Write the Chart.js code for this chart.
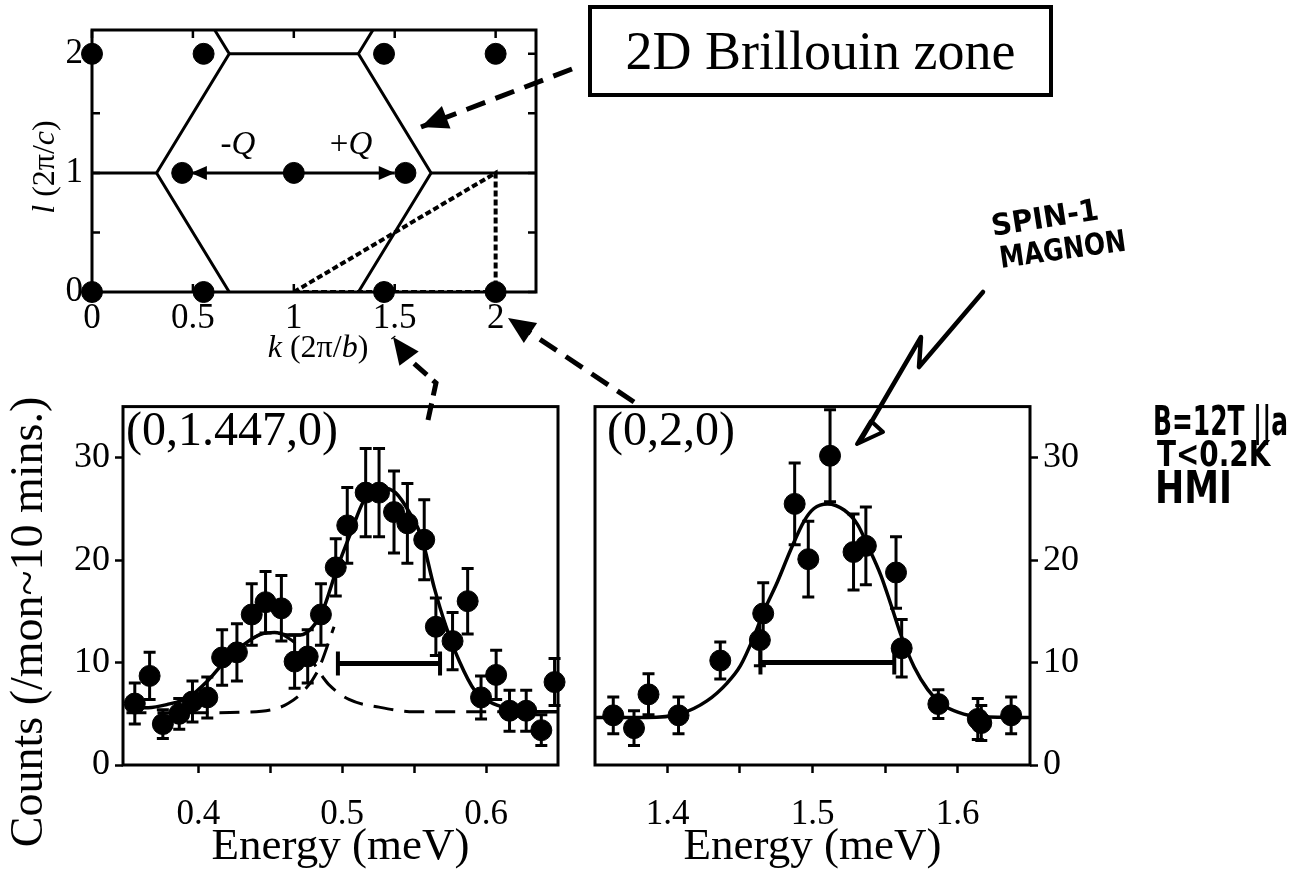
<!DOCTYPE html>
<html lang="en">
<head>
<meta charset="UTF-8">
<title>Spin-1 magnon scans</title>
<script src="https://cdn.jsdelivr.net/npm/chart.js"></script>
<style>
    body { margin: 0; background: #fff; }
    #page { position: relative; width: 1295px; height: 870px; overflow: hidden; background: #fff; }
    #page canvas { position: absolute; }
    .txt { position: absolute; white-space: nowrap; line-height: 0; color: #000;
           font-family: 'Liberation Serif', 'Times New Roman', serif; }
    .zone { position: absolute; left: 588px; top: 5px; width: 457px; height: 84px;
            border: 4px solid #000; display: flex; align-items: center; justify-content: center;
            font: 54px 'Liberation Serif', 'Times New Roman', serif; color: #000; }
</style>
</head>
<body>
<div id="page">
    <canvas id="zoneChart" width="560" height="370" style="left:0;top:0"></canvas>
    <canvas id="leftChart" width="580" height="490" style="left:0;top:380px"></canvas>
    <canvas id="rightChart" width="520" height="490" style="left:580px;top:380px"></canvas>
    <canvas id="marks" width="1295" height="870" style="left:0;top:0"></canvas>
    <div class="zone">2D Brillouin zone</div>
</div>
<script>
// ---- reciprocal space sketch (k, l) ----
var kTicks = [0, 0.5, 1, 1.5, 2];
var lTicks = [0, 0.5, 1, 1.5, 2];
var lLabels = [0, 1, 2];
var braggK = [0, 0.553, 1.447, 2, 0.447, 1, 1.553, 0, 0.553, 1.447, 2];
var braggL = [2, 2, 2, 2, 1, 1, 1, 0, 0, 0, 0];
var zoneLeftK = [0.608, 0.68, 0.32, 0.68];
var zoneRightK = [1.392, 1.32, 1.68, 1.32];
var zoneSideL = [2.2, 2, 1, 0];
var zoneTopK = [0.68, 1.32];
var zoneTopL = [2, 2];
var edgeLeftK = [0, 0.32];
var edgeRightK = [1.68, 2.2];
var edgeL = [1, 1];
var scanK = [1, 2, 2, 1];
var scanL = [0, 1, 0, 0];
var qFromK = 1;
var qTipK = [0.49, 1.5];
var qL = 1;

// ---- scan at (0,1.447,0) ----
var energyA = [0.3558, 0.3661, 0.3753, 0.3867, 0.3959, 0.4062, 0.4165, 0.4268, 0.4371, 0.4467,
               0.4577, 0.4669, 0.4760, 0.4852, 0.4955, 0.5035, 0.5163, 0.5256, 0.5360, 0.5453,
               0.5570, 0.5651, 0.5767, 0.5872, 0.5965, 0.6070, 0.6163, 0.6279, 0.6384, 0.6476];
var countsA = [6.0, 8.7, 4.0, 5.0, 6.2, 6.6, 10.5, 11.0, 14.7, 15.9,
               15.3, 10.1, 10.6, 14.7, 19.3, 23.4, 26.6, 26.6, 24.7, 23.6,
               22.0, 13.5, 12.1, 16.0, 6.6, 8.8, 5.3, 5.3, 3.4, 8.1];
var errA = [2.0, 2.3, 1.4, 1.5, 2.0, 2.0, 2.7, 2.8, 3.0, 3.0,
            3.2, 2.6, 2.6, 3.0, 2.8, 3.7, 4.3, 4.3, 4.0, 3.9,
            3.9, 2.8, 2.8, 3.2, 2.1, 2.4, 2.0, 2.0, 1.5, 2.3];
var fitAx = [0.350, 0.365, 0.378, 0.393, 0.407, 0.419, 0.432, 0.444, 0.453, 0.462, 0.471, 0.479,
             0.486, 0.4964, 0.506, 0.515, 0.527, 0.537, 0.547, 0.555, 0.564, 0.572, 0.5815,
             0.592, 0.605, 0.621, 0.635, 0.650];
var fitAy = [5.6, 5.6, 5.9, 6.6, 8.3, 10.2, 11.8, 12.8, 12.95, 12.7, 12.7, 13.4,
             14.9, 19.2, 22.7, 25.8, 27.1, 26.6, 24.6, 22.3, 17.3, 13.6, 10.1,
             7.3, 6.0, 5.4, 5.2, 5.2];
var lowPeakX = [0.419, 0.432, 0.444, 0.453, 0.4646, 0.4783, 0.4875, 0.4907, 0.5047, 0.5256, 0.55, 0.65];
var lowPeakY = [10.2, 11.8, 12.8, 12.95, 12.2, 10.3, 8.4, 7.85, 6.4, 5.65, 5.2, 5.2];
var highPeakX = [0.35, 0.40, 0.43, 0.451, 0.4623, 0.4737, 0.483, 0.4943];
var highPeakY = [5.1, 5.1, 5.15, 5.4, 6.0, 7.3, 9.2, 13.5];
var resolutionA = [0.497, 0.568, 9.9];
var xTicksA = [0.4, 0.45, 0.5, 0.55, 0.6];
var xLabelsA = [0.4, 0.5, 0.6];

// ---- scan at (0,2,0) ----
var energyB = [1.3626, 1.3769, 1.3869, 1.4076, 1.4364, 1.4637, 1.4660, 1.4877, 1.4971, 1.5121,
               1.5283, 1.5368, 1.5576, 1.5615, 1.5868, 1.6140, 1.6164, 1.6370];
var countsB = [4.85, 3.6, 6.9, 4.85, 10.2, 12.2, 14.8, 25.5, 20.1, 30.2,
               20.8, 21.4, 18.8, 11.4, 5.95, 4.5, 4.1, 4.85];
var errB = [1.8, 1.7, 2.0, 1.8, 1.8, 2.5, 3.0, 4.0, 3.7, 4.5,
            3.7, 3.8, 3.5, 2.8, 1.4, 2.0, 1.7, 1.8];
var fitBx = [1.35, 1.3857, 1.4088, 1.4272, 1.4411, 1.4503, 1.4595, 1.4664, 1.4757, 1.4849, 1.4941,
             1.501, 1.5103, 1.5218, 1.531, 1.538, 1.5472, 1.554, 1.5615, 1.5702, 1.5795, 1.5887,
             1.6002, 1.6164, 1.65];
var fitBy = [4.63, 4.63, 5.0, 6.26, 8.0, 9.7, 12.5, 15.0, 17.85, 21.0, 23.8,
             25.05, 25.5, 24.9, 23.5, 21.45, 18.5, 15.7, 12.5, 9.55, 7.36, 6.0,
             5.17, 4.7, 4.63];
var resolutionB = [1.4641, 1.5564, 10.0];
var xTicksB = [1.4, 1.45, 1.5, 1.55, 1.6];
var xLabelsB = [1.4, 1.5, 1.6];
var yTicks = [0, 10, 20, 30];

Chart.defaults.font.family = "'Liberation Serif', 'Times New Roman', serif";
Chart.defaults.color = '#000';

function pts(xs, ys) {
    return xs.map(function(x, i) { return {x: x, y: ys[i]}; });
}
function path(xs, ys, extra) {
    return Object.assign({data: pts(xs, ys), showLine: true, pointRadius: 0, borderColor: '#000',
                          borderWidth: 3, tension: 0}, extra || {});
}
function round2(v) { return Math.round(v * 100) / 100; }

function drawHead(ctx, tx, ty, fx, fy, len, half) {
    var a = Math.atan2(ty - fy, tx - fx);
    ctx.beginPath();
    ctx.moveTo(tx, ty);
    ctx.lineTo(tx - len * Math.cos(a) + half * Math.sin(a), ty - len * Math.sin(a) - half * Math.cos(a));
    ctx.lineTo(tx - len * Math.cos(a) - half * Math.sin(a), ty - len * Math.sin(a) + half * Math.cos(a));
    ctx.closePath();
    ctx.fill();
}

// box round the plot area, optionally with inward ticks
var framePlugin = {
    id: 'frame',
    beforeDatasetsDraw: function(chart, args, opts) {
        var a = chart.chartArea, ctx = chart.ctx;
        ctx.save();
        ctx.strokeStyle = '#000';
        ctx.lineWidth = 3;
        ctx.strokeRect(a.left, a.top, a.right - a.left, a.bottom - a.top);
        if (opts.inward) {
            ctx.lineWidth = 2.5;
            ctx.beginPath();
            chart.scales.x.ticks.forEach(function(t) {
                var px = chart.scales.x.getPixelForValue(t.value);
                ctx.moveTo(px, a.bottom); ctx.lineTo(px, a.bottom - 8);
                ctx.moveTo(px, a.top); ctx.lineTo(px, a.top + 8);
            });
            chart.scales.y.ticks.forEach(function(t) {
                var py = chart.scales.y.getPixelForValue(t.value);
                ctx.moveTo(a.left, py); ctx.lineTo(a.left + 8, py);
                ctx.moveTo(a.right, py); ctx.lineTo(a.right - 8, py);
            });
            ctx.stroke();
        }
        ctx.restore();
    }
};

// vertical error bars and the horizontal resolution bar
var errorBarPlugin = {
    id: 'errorBars',
    beforeDatasetsDraw: function(chart, args, opts) {
        var ctx = chart.ctx, xs = chart.scales.x, ys = chart.scales.y;
        ctx.save();
        ctx.strokeStyle = '#000';
        ctx.lineWidth = 3;
        chart.data.datasets.forEach(function(ds) {
            if (!ds.errors) return;
            ds.data.forEach(function(p, j) {
                var px = xs.getPixelForValue(p.x);
                var top = ys.getPixelForValue(p.y + ds.errors[j]);
                var bot = ys.getPixelForValue(p.y - ds.errors[j]);
                ctx.beginPath();
                ctx.moveTo(px, top); ctx.lineTo(px, bot);
                ctx.moveTo(px - 6, top); ctx.lineTo(px + 6, top);
                ctx.moveTo(px - 6, bot); ctx.lineTo(px + 6, bot);
                ctx.stroke();
            });
        });
        if (opts.bar) {
            var x0 = xs.getPixelForValue(opts.bar[0]), x1 = xs.getPixelForValue(opts.bar[1]);
            var y = ys.getPixelForValue(opts.bar[2]);
            ctx.lineWidth = 5;
            ctx.beginPath();
            ctx.moveTo(x0, y); ctx.lineTo(x1, y);
            ctx.stroke();
            ctx.lineWidth = 4;
            ctx.beginPath();
            ctx.moveTo(x0, y - 12); ctx.lineTo(x0, y + 12);
            ctx.moveTo(x1, y - 12); ctx.lineTo(x1, y + 12);
            ctx.stroke();
        }
        ctx.restore();
    }
};

// arrow heads at the last point of flagged line datasets
var arrowPlugin = {
    id: 'arrowTips',
    afterDatasetsDraw: function(chart) {
        var ctx = chart.ctx;
        ctx.save();
        ctx.fillStyle = '#000';
        chart.data.datasets.forEach(function(ds, i) {
            if (!ds.arrowHead) return;
            var el = chart.getDatasetMeta(i).data;
            var a = el[el.length - 2], b = el[el.length - 1];
            drawHead(ctx, b.x, b.y, a.x, a.y, 16, 7);
        });
        ctx.restore();
    }
};

function fixedTicks(values) {
    return function(scale) { scale.ticks = values.map(function(v) { return {value: v}; }); };
}

var base = {
    responsive: false,
    animation: false,
    events: [],
    plugins: {legend: {display: false}, tooltip: {enabled: false}}
};

// top panel
new Chart(document.getElementById('zoneChart'), {
    type: 'scatter',
    data: {datasets: [
        {data: pts(braggK, braggL), pointRadius: 10.5, backgroundColor: '#000', borderColor: '#000', clip: false},
        path([qFromK, qTipK[0]], [qL, qL], {arrowHead: true}),
        path([qFromK, qTipK[1]], [qL, qL], {arrowHead: true}),
        path(scanK, scanL, {borderDash: [6, 3], borderWidth: 4}),
        path(zoneLeftK, zoneSideL),
        path(zoneRightK, zoneSideL),
        path(zoneTopK, zoneTopL),
        path(edgeLeftK, edgeL),
        path(edgeRightK, edgeL)
    ]},
    options: Object.assign({}, base, {
        layout: {padding: {top: 25, right: 24, left: 0, bottom: 0}},
        plugins: Object.assign({}, base.plugins, {frame: {inward: true}}),
        scales: {
            x: {min: 0, max: 2.2, afterBuildTicks: fixedTicks(kTicks), afterFit: function(s) { s.height = 78; },
                grid: {display: false, drawTicks: false}, border: {display: false},
                ticks: {padding: 6, font: {size: 35}, maxRotation: 0, autoSkip: false,
                        callback: function(v) { return String(v); }}},
            y: {min: 0, max: 2.2, afterBuildTicks: fixedTicks(lTicks), afterFit: function(s) { s.width = 92; },
                grid: {display: false, drawTicks: false}, border: {display: false},
                ticks: {padding: 9, font: {size: 35}, autoSkip: false,
                        callback: function(v) { return lLabels.indexOf(v) >= 0 ? String(v) : ''; }}}
        }
    }),
    plugins: [framePlugin, arrowPlugin]
});

function scanOptions(xMin, xMax, xTicks, xLabels, yPos, yWidth, pad, bar) {
    return Object.assign({}, base, {
        layout: {padding: pad},
        plugins: Object.assign({}, base.plugins, {frame: {}, errorBars: {bar: bar}}),
        scales: {
            x: {min: xMin, max: xMax, afterBuildTicks: fixedTicks(xTicks), afterFit: function(s) { s.height = 105; },
                grid: {display: true, drawOnChartArea: false, drawTicks: true, tickLength: 8, tickWidth: 2.5, tickColor: '#000'},
                border: {display: false},
                ticks: {padding: 21, font: {size: 35}, maxRotation: 0, autoSkip: false,
                        callback: function(v) { return xLabels.indexOf(round2(v)) >= 0 ? String(round2(v)) : ''; }},
                title: {display: true, text: 'Energy (meV)', font: {size: 45, lineHeight: 1}, padding: 0}},
            y: {position: yPos, min: 0, max: 35, afterBuildTicks: fixedTicks(yTicks), afterFit: function(s) { s.width = yWidth; },
                grid: {display: true, drawOnChartArea: false, drawTicks: true, tickLength: 8, tickWidth: 2.5, tickColor: '#000'},
                border: {display: false},
                ticks: {padding: 5, font: {size: 36}, autoSkip: false}}
        }
    });
}

new Chart(document.getElementById('leftChart'), {
    type: 'scatter',
    data: {datasets: [
        {data: pts(energyA, countsA), errors: errA, pointRadius: 10.5, backgroundColor: '#000', borderColor: '#000', clip: false},
        path(fitAx, fitAy, {borderWidth: 3.5, cubicInterpolationMode: 'monotone'}),
        path(lowPeakX, lowPeakY, {borderWidth: 3, borderDash: [20, 11], cubicInterpolationMode: 'monotone'}),
        path(highPeakX, highPeakY, {borderWidth: 3, borderDash: [20, 11], cubicInterpolationMode: 'monotone'})
    ]},
    options: scanOptions(0.3476, 0.65, xTicksA, xLabelsA, 'left', 123, {top: 13, right: 22, left: 0, bottom: 0}, resolutionA),
    plugins: [framePlugin, errorBarPlugin]
});

new Chart(document.getElementById('rightChart'), {
    type: 'scatter',
    data: {datasets: [
        {data: pts(energyB, countsB), errors: errB, pointRadius: 10.5, backgroundColor: '#000', borderColor: '#000', clip: false},
        path(fitBx, fitBy, {borderWidth: 3.5, cubicInterpolationMode: 'monotone'})
    ]},
    options: scanOptions(1.35, 1.65, xTicksB, xLabelsB, 'right', 70, {top: 13, right: 0, left: 15, bottom: 0}, resolutionB),
    plugins: [framePlugin, errorBarPlugin]
});

// ---- text labels placed by their baseline ----
var page = document.getElementById('page');
function note(html, x, y, size, o) {
    o = o || {};
    var box = document.createElement('div');
    box.style.cssText = 'position:absolute;width:0;height:0;left:' + x + 'px;top:' + y + 'px;transform:rotate(' + (o.rot || 0) + 'deg)';
    var t = document.createElement('div');
    t.className = 'txt';
    t.innerHTML = html;
    t.style.fontSize = size + 'px';
    t.style.left = '0px';
    t.style.top = (-0.34 * size) + 'px';
    if (o.font) t.style.fontFamily = o.font;
    if (o.weight) t.style.fontWeight = o.weight;
    box.appendChild(t);
    page.appendChild(box);
    var s = o.width ? o.width / t.offsetWidth : 1;
    if (o.center) {
        t.style.transformOrigin = '50% 50%';
        t.style.transform = 'translateX(-50%) scaleX(' + s + ')';
    } else {
        t.style.transformOrigin = '0 50%';
        t.style.transform = 'scaleX(' + s + ')';
    }
}

note('(0,1.447,0)', 126, 445, 48);
note('(0,2,0)', 607, 445, 48);
note('-<i>Q</i>', 238, 154, 33, {center: true});
note('+<i>Q</i>', 351, 154, 33, {center: true});
note('<i>k</i> (2&pi;/<i>b</i>)', 318, 357, 32, {center: true});
note('<i>l</i> (2&pi;/<i>c</i>)', 54, 167, 32, {center: true, rot: -90});
note('Counts (/mon~10 mins.)', 43, 622, 46, {center: true, rot: -90});

var hand = "'DejaVu Sans', sans-serif";
note('SPIN-1', 993, 236, 30, {font: hand, weight: 'bold', width: 108, rot: -9});
note('MAGNON', 1001, 268, 30, {font: hand, weight: 'bold', width: 127, rot: -8});
note('B=12T ||a', 1153, 435, 40, {font: hand, weight: 'bold', width: 135});
note('T&lt;0.2K', 1157, 466, 36, {font: hand, weight: 'bold', width: 113});
note('HMI', 1155, 503, 44, {font: hand, weight: 'bold', width: 77});

// ---- pointer arrows between the panels ----
var m = document.getElementById('marks').getContext('2d');
m.fillStyle = '#000';
m.strokeStyle = '#000';
function dashedArrow(p, dash) {
    m.save();
    m.setLineDash(dash);
    m.lineWidth = 5;
    m.beginPath();
    m.moveTo(p[0][0], p[0][1]);
    for (var i = 1; i < p.length; i++) m.lineTo(p[i][0], p[i][1]);
    m.stroke();
    m.restore();
    var n = p.length;
    drawHead(m, p[n - 1][0], p[n - 1][1], p[n - 2][0], p[n - 2][1], 27, 12);
}
dashedArrow([[572, 69], [421, 127]], [20, 11]);
dashedArrow([[634, 402], [508, 318]], [20, 11]);
dashedArrow([[428, 420], [436, 383], [410, 360], [393, 337]], [17, 8]);

// hand-drawn zigzag pointing at the (0,2,0) peak
m.save();
m.lineWidth = 4.5;
m.lineJoin = 'round';
m.lineCap = 'round';
m.beginPath();
m.moveTo(983, 292);
m.lineTo(919, 367);
m.lineTo(921, 337);
m.lineTo(862, 438);
m.stroke();
m.lineWidth = 4;
m.beginPath();
m.moveTo(857, 444);
m.lineTo(883, 432);
m.lineTo(871, 421);
m.closePath();
m.stroke();
m.restore();
</script>
</body>
</html>
